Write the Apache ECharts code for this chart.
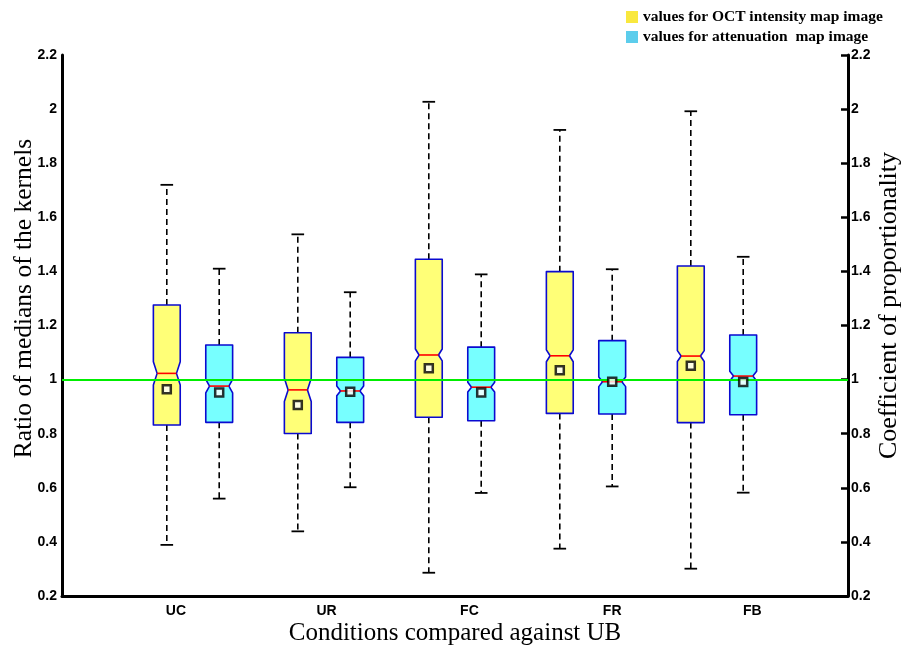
<!DOCTYPE html>
<html>
<head>
<meta charset="utf-8">
<script src="https://cdn.jsdelivr.net/npm/echarts@6/dist/echarts.min.js"></script>
<style>
  html, body { margin: 0; padding: 0; background: #fff; }
  #chart { width: 903px; height: 645px; }
</style>
</head>
<body>
<div id="chart"></div>
<script>
var categories = ['UC', 'UR', 'FC', 'FR', 'FB'];
var yTicks = [0.2, 0.4, 0.6, 0.8, 1, 1.2, 1.4, 1.6, 1.8, 2, 2.2];

// OCT intensity map image (yellow)
var octLow = [0.389, 0.439, 0.286, 0.375, 0.301];
var octQ1 = [0.832, 0.801, 0.861, 0.875, 0.841];
var octMedian = [1.023, 0.962, 1.091, 1.088, 1.087];
var octQ3 = [1.276, 1.173, 1.445, 1.399, 1.420];
var octHigh = [1.720, 1.537, 2.027, 1.923, 1.992];
var octMean = [0.964, 0.906, 1.042, 1.035, 1.051];
var octNotch = [0.043, 0.043, 0.022, 0.022, 0.02];

// attenuation map image (cyan)
var attLow = [0.560, 0.602, 0.581, 0.605, 0.582];
var attQ1 = [0.842, 0.842, 0.848, 0.873, 0.870];
var attMedian = [0.976, 0.958, 0.972, 0.992, 1.013];
var attQ3 = [1.128, 1.082, 1.120, 1.144, 1.165];
var attHigh = [1.410, 1.323, 1.389, 1.408, 1.454];
var attMean = [0.952, 0.955, 0.952, 0.992, 0.991];
var attNotch = [0.025, 0.018, 0.018, 0.018, 0.018];

var referenceLevel = 1;

// layout only
var PAIR_OFFSET = 0.2;
var BOX_W = 0.205;
var labelAt = [0.87, 2.02, 3.11, 4.2, 5.27];

var octName = 'values for OCT intensity map image';
var attName = 'values for attenuation  map image';

function boxRows(low, q1, med, notch, q3, high, shift) {
    var rows = [];
    for (var i = 0; i < categories.length; i++) {
        rows.push([i + 1 + shift, low[i], q1[i], med[i] - notch[i], med[i], med[i] + notch[i], q3[i], high[i]]);
    }
    return rows;
}

function meanRows(mean, shift) {
    var rows = [];
    for (var i = 0; i < categories.length; i++) {
        rows.push([i + 1 + shift, mean[i]]);
    }
    return rows;
}

function makeBox(fill) {
    return function (params, api) {
        var x = api.value(0);
        var y = function (k) { return api.coord([x, api.value(k)])[1]; };
        var cx = api.coord([x, 1])[0];
        var half = api.size([BOX_W, 0])[0] / 2;
        var inset = half * 0.28;
        var cap = half * 0.47;
        var yLow = y(1), yQ1 = y(2), yNlo = y(3), yMed = y(4), yNhi = y(5), yQ3 = y(6), yHigh = y(7);
        var L = cx - half, R = cx + half;
        var dashStyle = { stroke: '#000', lineWidth: 1.6, lineDash: [6, 4] };
        var capStyle = { stroke: '#000', lineWidth: 1.8 };
        return {
            type: 'group',
            children: [
                { type: 'line', shape: { x1: cx, y1: yQ3, x2: cx, y2: yHigh }, style: dashStyle },
                { type: 'line', shape: { x1: cx, y1: yQ1, x2: cx, y2: yLow }, style: dashStyle },
                { type: 'line', shape: { x1: cx - cap, y1: yHigh, x2: cx + cap, y2: yHigh }, style: capStyle },
                { type: 'line', shape: { x1: cx - cap, y1: yLow, x2: cx + cap, y2: yLow }, style: capStyle },
                {
                    type: 'polygon',
                    shape: {
                        points: [
                            [L, yQ3], [R, yQ3], [R, yNhi], [R - inset, yMed], [R, yNlo],
                            [R, yQ1], [L, yQ1], [L, yNlo], [L + inset, yMed], [L, yNhi]
                        ]
                    },
                    style: { fill: fill, stroke: '#0a0ad0', lineWidth: 1.6, lineJoin: 'round' }
                },
                { type: 'line', shape: { x1: L + inset, y1: yMed, x2: R - inset, y2: yMed }, style: { stroke: '#ff0000', lineWidth: 1.6 } }
            ]
        };
    };
}

var dom = document.getElementById('chart');
var myChart = echarts.init(dom);

var labelFont = { color: '#000', fontFamily: 'Liberation Sans', fontWeight: 'bold', fontSize: 14 };

function tickText(v) {
    return String(+v.toFixed(1));
}

var option = {
    animation: false,
    backgroundColor: '#fff',
    legend: {
        left: 621,
        top: 4,
        orient: 'vertical',
        itemWidth: 12,
        itemHeight: 12,
        itemGap: 4,
        icon: 'rect',
        textStyle: { color: '#000', fontFamily: 'Liberation Serif', fontWeight: 'bold', fontSize: 15.5 },
        data: [
            { name: octName, itemStyle: { color: '#f9e83e' } },
            { name: attName, itemStyle: { color: '#5ccdec' } }
        ]
    },
    grid: { left: 62, right: 55, top: 55, bottom: 49, outerBoundsMode: 'none', containLabel: false },
    xAxis: {
        type: 'value',
        min: 0,
        max: 6,
        splitLine: { show: false },
        axisLine: { show: true, lineStyle: { color: '#000', width: 3 } },
        axisTick: { show: false },
        axisLabel: {
            customValues: labelAt,
            fontFamily: 'Liberation Sans',
            fontWeight: 'bold',
            fontSize: 14,
            color: '#000',
            margin: 8,
            formatter: function (v) {
                var best = 0;
                for (var i = 1; i < labelAt.length; i++) {
                    if (Math.abs(labelAt[i] - v) < Math.abs(labelAt[best] - v)) best = i;
                }
                return categories[best];
            }
        },
        name: 'Conditions compared against UB',
        nameLocation: 'middle',
        nameGap: 25,
        nameMoveOverlap: false,
        nameTextStyle: { color: '#000', fontFamily: 'Liberation Serif', fontSize: 25 }
    },
    yAxis: [
        {
            type: 'value',
            position: 'left',
            min: yTicks[0],
            max: yTicks[yTicks.length - 1],
            interval: 0.2,
            splitLine: { show: false },
            axisLine: { show: true, lineStyle: { color: '#000', width: 3 } },
            axisTick: { show: false },
            axisLabel: Object.assign({ margin: 5, formatter: tickText }, labelFont),
            name: 'Ratio of medians of the kernels',
            nameLocation: 'middle',
            nameGap: 25,
            nameMoveOverlap: false,
            nameTextStyle: { color: '#000', fontFamily: 'Liberation Serif', fontSize: 25.5, padding: [0, 0, 0, 54] }
        },
        {
            type: 'value',
            position: 'right',
            min: yTicks[0],
            max: yTicks[yTicks.length - 1],
            interval: 0.2,
            splitLine: { show: false },
            axisLine: { show: true, lineStyle: { color: '#000', width: 3 } },
            axisTick: { show: true, inside: true, length: 7, lineStyle: { color: '#000', width: 2.5 } },
            axisLabel: Object.assign({ margin: 3, formatter: tickText }, labelFont),
            name: 'Coefficient of proportionality',
            nameLocation: 'middle',
            nameGap: 28,
            nameMoveOverlap: false,
            nameTextStyle: { color: '#000', fontFamily: 'Liberation Serif', fontSize: 26, padding: [0, 0, 0, 40] }
        }
    ],
    series: [
        {
            name: octName,
            type: 'custom',
            renderItem: makeBox('#ffff77'),
            encode: { x: 0, y: [1, 2, 3, 4, 5, 6, 7] },
            data: boxRows(octLow, octQ1, octMedian, octNotch, octQ3, octHigh, -PAIR_OFFSET),
            z: 3,
            markLine: {
                silent: true,
                symbol: 'none',
                label: { show: false },
                lineStyle: { color: '#00ee00', width: 1.8, type: 'solid' },
                data: [{ yAxis: referenceLevel }]
            }
        },
        {
            name: attName,
            type: 'custom',
            renderItem: makeBox('#77ffff'),
            encode: { x: 0, y: [1, 2, 3, 4, 5, 6, 7] },
            data: boxRows(attLow, attQ1, attMedian, attNotch, attQ3, attHigh, PAIR_OFFSET),
            z: 3
        },
        {
            name: 'octMean',
            type: 'scatter',
            symbol: 'rect',
            symbolSize: 8,
            itemStyle: { color: '#fff', borderColor: '#000', borderWidth: 2.5 },
            data: meanRows(octMean, -PAIR_OFFSET),
            z: 6
        },
        {
            name: 'attMean',
            type: 'scatter',
            symbol: 'rect',
            symbolSize: 8,
            itemStyle: { color: '#fff', borderColor: '#000', borderWidth: 2.5 },
            data: meanRows(attMean, PAIR_OFFSET),
            z: 6
        }
    ]
};

if (option && typeof option === 'object') {
    myChart.setOption(option, true);
}
</script>
</body>
</html>
